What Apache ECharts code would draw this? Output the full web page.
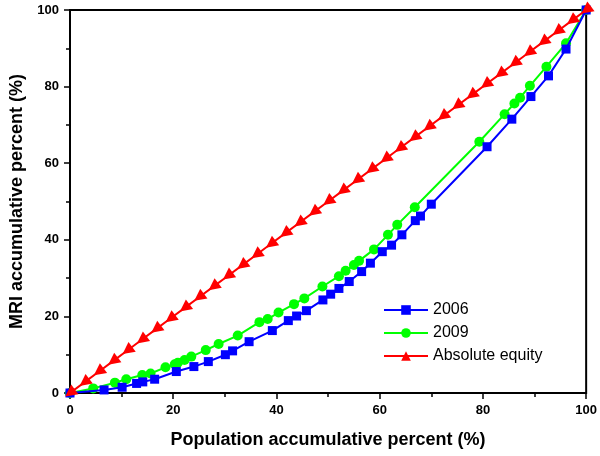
<!DOCTYPE html>
<html>
<head>
<meta charset="utf-8">
<script src="https://cdn.jsdelivr.net/npm/echarts@6/dist/echarts.min.js"></script>
<style>html,body{margin:0;padding:0;background:#fff}#c{width:600px;height:456px}</style>
</head>
<body>
<div id="c"></div>
<script>
const xTicks = [0, 20, 40, 60, 80, 100];
const x2006 = [0, 6.6, 10.1, 12.9, 14.1, 16.4, 20.6, 24.0, 26.8, 30.1, 31.5, 34.7, 39.2, 42.3, 43.9, 45.8, 49.0, 50.5, 52.1, 54.1, 56.5, 58.2, 60.5, 62.3, 64.3, 66.9, 67.9, 70.0, 80.8, 85.6, 89.3, 92.7, 96.1, 100];
const y2006 = [0, 0.8, 1.5, 2.5, 2.9, 3.6, 5.6, 6.9, 8.2, 10.0, 11.0, 13.4, 16.3, 18.9, 20.1, 21.5, 24.3, 25.8, 27.3, 29.1, 31.7, 33.9, 36.9, 38.6, 41.3, 45.0, 46.2, 49.3, 64.3, 71.5, 77.4, 82.8, 89.8, 100];
const x2009 = [0, 4.5, 8.7, 10.9, 14.0, 15.6, 18.5, 20.3, 20.9, 22.2, 23.5, 26.3, 28.8, 32.5, 36.7, 38.3, 40.4, 43.4, 45.4, 48.9, 52.1, 53.4, 55.0, 56.0, 58.9, 61.6, 63.4, 66.8, 79.3, 84.2, 86.1, 87.2, 89.1, 92.3, 96.1, 100];
const y2009 = [0, 1.2, 2.7, 3.6, 4.7, 5.1, 6.7, 7.5, 7.9, 8.6, 9.5, 11.2, 12.8, 15.0, 18.5, 19.3, 21.0, 23.2, 24.7, 27.8, 30.5, 31.9, 33.4, 34.5, 37.5, 41.3, 43.9, 48.5, 65.6, 72.8, 75.6, 77.1, 80.2, 85.2, 91.3, 100];
const xEq = [0, 2.78, 5.56, 8.33, 11.11, 13.89, 16.67, 19.44, 22.22, 25, 27.78, 30.56, 33.33, 36.11, 38.89, 41.67, 44.44, 47.22, 50, 52.78, 55.56, 58.33, 61.11, 63.89, 66.67, 69.44, 72.22, 75, 77.78, 80.56, 83.33, 86.11, 88.89, 91.67, 94.44, 97.22, 100];
const yEq = [0, 2.78, 5.56, 8.33, 11.11, 13.89, 16.67, 19.44, 22.22, 25, 27.78, 30.56, 33.33, 36.11, 38.89, 41.67, 44.44, 47.22, 50, 52.78, 55.56, 58.33, 61.11, 63.89, 66.67, 69.44, 72.22, 75, 77.78, 80.56, 83.33, 86.11, 88.89, 91.67, 94.44, 97.22, 100];
const seriesNames = ['2006', '2009', 'Absolute equity'];

const pairs = (xs, ys) => xs.map((x, i) => [x, ys[i]]);
const FONT = 'Liberation Sans, Arial, sans-serif';

function axis(name, gap, rot, margin) {
  return {
    type: 'value', min: 0, max: 100, interval: 20,
    name: name, nameLocation: 'middle', nameGap: gap, nameRotate: rot,
    nameTextStyle: { fontFamily: FONT, fontWeight: 'bold', fontSize: 18, color: '#000' },
    axisLine: { show: true, lineStyle: { color: '#000', width: 2 } },
    axisTick: { show: true, inside: false, length: 6, lineStyle: { color: '#000', width: 1.5 } },
    minorTick: { show: true, splitNumber: 2, length: 4, lineStyle: { color: '#000', width: 1.5 } },
    splitLine: { show: false },
    axisLabel: { fontFamily: FONT, fontWeight: 'bold', fontSize: 13, color: '#000', margin: margin,
      formatter: v => xTicks.includes(v) ? String(v) : '' }
  };
}

const chart = echarts.init(document.getElementById('c'), null, { renderer: 'canvas' });
chart.setOption({
  animation: false,
  backgroundColor: '#fff',
  grid: { left: 70, right: 12, top: 10, bottom: 63, show: true, borderColor: '#000', borderWidth: 2, backgroundColor: 'transparent' },
  xAxis: axis('Population accumulative percent (%)', 38, 0, 11),
  yAxis: axis('MRI accumulative percent (%)', 43, 90, 11),
  legend: {
    data: seriesNames, orient: 'vertical', left: 378, top: 297,
    itemWidth: 44, itemHeight: 12, itemGap: 7, symbolRotate: 0,
    textStyle: { fontFamily: FONT, fontSize: 16, color: '#000' }
  },
  series: [
    { name: seriesNames[0], type: 'line', data: pairs(x2006, y2006), symbol: 'rect', symbolSize: 9,
      color: '#0000ff', lineStyle: { width: 2, color: '#0000ff' }, itemStyle: { color: '#0000ff' }, z: 3 },
    { name: seriesNames[1], type: 'line', data: pairs(x2009, y2009), symbol: 'circle', symbolSize: 10,
      color: '#00ff00', lineStyle: { width: 2, color: '#00ff00' }, itemStyle: { color: '#00ff00' }, z: 2 },
    { name: seriesNames[2], type: 'line', data: pairs(xEq, yEq), symbol: 'triangle', symbolSize: 12, symbolRotate: 127,
      color: '#ff0000', lineStyle: { width: 2, color: '#ff0000' }, itemStyle: { color: '#ff0000' }, z: 4 }
  ]
});
</script>
</body>
</html>
